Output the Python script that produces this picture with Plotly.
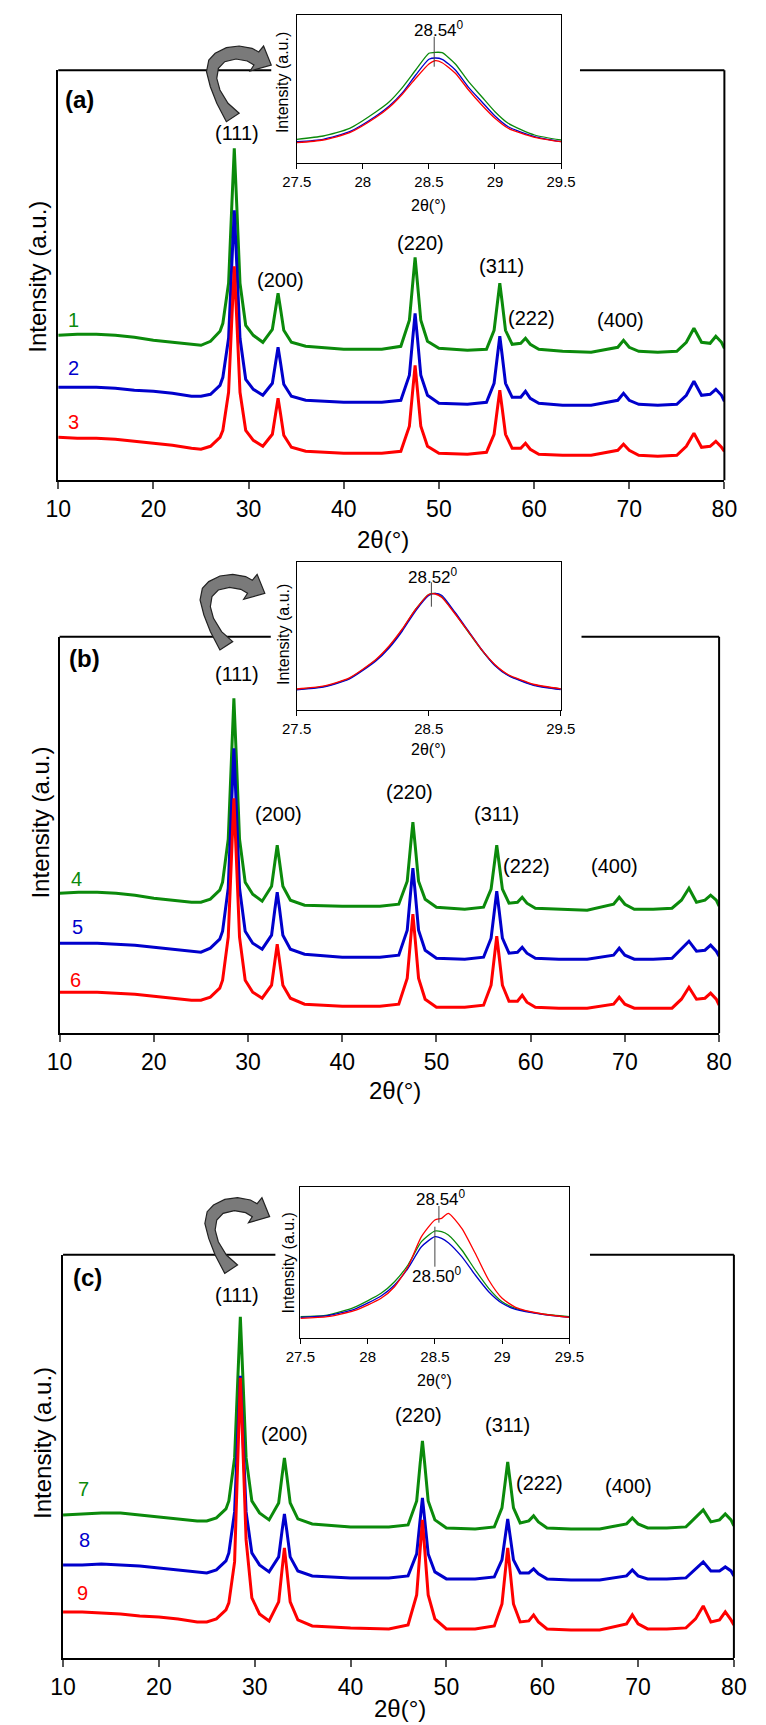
import plotly.graph_objects as go

W, H = 766, 1725
FONT = "Liberation Sans, Arial, sans-serif"
GREEN, BLUE, RED = "#0b8a0b", "#0000cc", "#ff0000"

# ---------------- main XRD patterns (2theta, intensity a.u.) ----------------
two_theta = [10, 12, 14, 16, 18, 20, 22, 24, 25, 26,
             27, 27.3, 27.9, 28.25, 28.5, 28.75, 29.1, 29.7, 30.5, 31.5,
             32.5, 32.85, 33.1, 33.35, 33.7, 34.5, 36, 40, 44, 46,
             46.9, 47.25, 47.5, 47.75, 48.1, 48.8, 50, 53, 55, 55.8,
             56.15, 56.4, 56.65, 57.0, 57.7, 58.6, 59.1, 59.6, 60.5, 63,
             66, 68.8, 69.4, 70.0, 71, 73, 75, 76.0, 76.8, 77.6,
             78.5, 79.1, 79.7, 80]

a_green = [145, 146, 146, 145, 143, 140, 138, 136, 135, 139,
           149, 157, 197, 277, 332, 277, 197, 155, 145, 138,
           151, 172, 187, 172, 150, 138, 134, 131, 131, 134,
           160, 197, 223, 197, 160, 139, 132, 130, 131, 150,
           178, 197, 178, 150, 136, 137, 142, 136, 131, 129,
           128, 133, 140, 133, 129, 128, 129, 138, 152, 138,
           137, 144, 138, 132]
a_blue = [93, 93, 93, 92, 90, 89, 87, 84, 84, 86,
          95, 103, 142, 218, 270, 218, 142, 101, 91, 85,
          97, 118, 133, 118, 96, 84, 80, 78, 78, 80,
          105, 142, 167, 142, 105, 85, 77, 76, 78, 97,
          125, 144, 125, 97, 83, 83, 89, 82, 77, 75,
          75, 80, 87, 80, 76, 75, 76, 85, 99, 85,
          86, 91, 85, 79]
a_red = [43, 42, 42, 41, 39, 37, 35, 32, 31, 34,
         43, 50, 88, 163, 214, 163, 88, 50, 40, 34,
         46, 67, 82, 67, 45, 33, 29, 27, 27, 29,
         54, 90, 115, 90, 54, 34, 27, 26, 28, 46,
         72, 90, 72, 46, 32, 32, 37, 31, 26, 25,
         25, 30, 36, 30, 25, 24, 25, 34, 47, 33,
         34, 39, 33, 29]

b_green = [140, 141, 141, 140, 138, 135, 133, 131, 131, 134,
           143, 151, 194, 278, 335, 278, 194, 151, 139, 132,
           147, 171, 188, 171, 147, 133, 128, 127, 127, 129,
           152, 187, 211, 187, 152, 134, 126, 124, 126, 144,
           170, 188, 170, 144, 130, 131, 136, 130, 125, 124,
           123, 129, 136, 129, 124, 124, 125, 133, 145, 131,
           133, 138, 133, 127]
b_blue = [90, 90, 90, 89, 88, 86, 84, 82, 81, 85,
          94, 102, 145, 228, 285, 228, 145, 102, 90, 84,
          98, 124, 141, 124, 98, 84, 79, 76, 76, 78,
          103, 140, 165, 140, 103, 83, 75, 74, 76, 95,
          123, 142, 123, 95, 80, 81, 86, 80, 75, 74,
          74, 78, 85, 78, 74, 74, 75, 84, 92, 82,
          83, 88, 82, 77]
b_red = [41, 41, 41, 40, 39, 37, 35, 33, 33, 36,
         45, 53, 96, 178, 235, 178, 96, 53, 41, 35,
         48, 72, 89, 72, 48, 35, 29, 27, 27, 29,
         55, 93, 119, 93, 55, 34, 26, 26, 28, 48,
         77, 97, 77, 48, 32, 32, 38, 31, 26, 25,
         25, 29, 36, 29, 25, 25, 25, 34, 46, 34,
         35, 40, 34, 28]

c_green = [143, 144, 145, 145, 143, 141, 139, 137, 137, 140,
           149, 157, 200, 284, 341, 284, 200, 157, 145, 138,
           155, 182, 200, 182, 155, 139, 134, 131, 131, 133,
           157, 193, 217, 193, 157, 138, 130, 129, 131, 150,
           177, 196, 177, 150, 135, 137, 142, 136, 130, 129,
           129, 134, 140, 134, 130, 130, 131, 141, 148, 136,
           138, 144, 138, 132]
c_blue = [93, 93, 94, 93, 92, 90, 88, 86, 85, 88,
          97, 105, 146, 227, 282, 227, 146, 105, 93, 86,
          101, 127, 144, 127, 101, 87, 82, 80, 80, 82,
          104, 137, 160, 137, 104, 86, 79, 79, 81, 98,
          122, 139, 122, 98, 85, 85, 89, 84, 79, 78,
          78, 82, 88, 82, 79, 79, 80, 89, 96, 87,
          87, 91, 87, 82]
c_red = [46, 46, 45, 44, 42, 41, 39, 36, 36, 39,
         48, 55, 96, 200, 280, 215, 118, 60, 44, 37,
         56, 88, 110, 88, 56, 38, 32, 30, 29, 33,
         63, 107, 138, 107, 63, 39, 29, 29, 32, 54,
         87, 110, 87, 54, 36, 37, 43, 36, 29, 28,
         28, 34, 43, 34, 29, 29, 30, 39, 52, 36,
         38, 46, 38, 33]

# ---------------- insets: (111) peak zoom ----------------
inset_theta = [27.5, 27.7, 27.9, 28.1, 28.2, 28.3, 28.4, 28.5, 28.55, 28.6,
               28.7, 28.8, 28.9, 29.0, 29.1, 29.3, 29.5]
ia_green = [24, 27.3, 35, 51.6, 61.6, 76, 93.3, 110, 111, 110.6, 99.3, 81.6, 66.6, 51.6, 40, 28.3, 23.3]
ia_blue = [21.6, 24, 31.6, 47.3, 57.3, 70.6, 88.3, 104, 105.3, 104, 93.3, 76, 61.6, 47.3, 36.6, 26.6, 21.6]
ia_red = [20.6, 23.3, 30.6, 46, 56, 69.3, 85, 99.3, 102.6, 100.6, 90, 73.3, 58.3, 45, 35, 26, 21.6]
ib_green = [20.7, 23.3, 31.7, 50, 63.3, 80.5, 100.5, 115.5, 116.5, 113, 96.5, 78, 60, 45, 35, 25, 21]
ib_blue = [20.2, 22.8, 31, 49, 62, 79, 99, 114.5, 116.7, 114.5, 97.5, 79, 60.5, 44.5, 34.5, 24.5, 20.5]
ib_red = [21, 23.8, 32.2, 50.5, 64, 81, 100.5, 115.5, 116, 112.5, 96, 78.3, 60.3, 45.5, 35.5, 25.5, 21.2]
ic_green = [21.5, 23, 30.9, 44.9, 56.5, 73.2, 96.5, 107.2, 106.5, 103.2, 88.2, 68.2, 49.9, 36.5, 29.9, 24.2, 21.5]
ic_blue = [20.9, 22.5, 28.9, 42.2, 53.2, 69.9, 91.5, 101.5, 99.9, 95.5, 81.5, 63.2, 46.5, 34.9, 28.9, 23.9, 20.9]
ic_red = [19.9, 21.5, 27.5, 39.9, 51.5, 71.5, 101.5, 118.2, 119.9, 124.9, 109.9, 84.9, 58.2, 39.9, 30.9, 24.2, 20.9]

main_ticks = [10, 20, 30, 40, 50, 60, 70, 80]
inset_ticks_full = [27.5, 28, 28.5, 29, 29.5]
inset_ticks_b = [27.5, 28.5, 29.5]
peak_labels = ["(111)", "(200)", "(220)", "(311)", "(222)", "(400)"]


def P(x, y):
    return x / W, 1 - y / H


fig = go.Figure()

panels = [
    ("", "2", [a_green, a_blue, a_red], [ia_green, ia_blue, ia_red], ["1", "2", "3"]),
    ("3", "4", [b_green, b_blue, b_red], [ib_green, ib_blue, ib_red], ["4", "5", "6"]),
    ("5", "6", [c_green, c_blue, c_red], [ic_green, ic_blue, ic_red], ["7", "8", "9"]),
]
colors = [GREEN, BLUE, RED]

for mid, iid, series, iseries, names in panels:
    for ys, col, nm in zip(series, colors, names):
        fig.add_trace(go.Scatter(x=two_theta, y=ys, mode="lines", name=nm,
                                 line=dict(color=col, width=3),
                                 xaxis="x" + mid, yaxis="y" + mid, showlegend=False))
    for ys, col, nm in zip(iseries, colors, names):
        fig.add_trace(go.Scatter(x=inset_theta, y=ys, mode="lines", name=nm,
                                 line=dict(color=col, width=1.3, shape="spline", smoothing=0.6),
                                 xaxis="x" + iid, yaxis="y" + iid, showlegend=False))

main_geo = {  # left, right, top, bottom (page pixels)
    "": (45, 738.3, 70.3, 480.3),
    "3": (46.4, 732.8, 636.8, 1033.2),
    "5": (50, 748.2, 1254.7, 1657.9),
}
inset_geo = {
    "2": (293.3, 568.3, 14.7, 163.3),
    "4": (293.1, 568.1, 562.1, 710),
    "6": (297, 577, 1187, 1338.2),
}

layout = dict(width=W, height=H, margin=dict(l=0, r=0, t=0, b=0),
              paper_bgcolor="white", plot_bgcolor="white",
              font=dict(family=FONT, color="black"), showlegend=False)

for mid, (l, r, t, b) in main_geo.items():
    layout["xaxis" + mid] = dict(domain=[l / W, r / W], anchor="y" + mid, range=[10, 80],
                                 tickvals=main_ticks, ticks="outside", ticklen=7, tickwidth=2,
                                 tickcolor="#555555", showline=True, linewidth=2, linecolor="black",
                                 showgrid=False, zeroline=False,
                                 tickfont=dict(size=23, family=FONT, color="black"))
    layout["yaxis" + mid] = dict(domain=[1 - b / H, 1 - t / H], anchor="x" + mid,
                                 range=[0, b - t], showline=True, linewidth=2, linecolor="black",
                                 showticklabels=False, ticks="", showgrid=False, zeroline=False)

for iid, (l, r, t, b) in inset_geo.items():
    tv = inset_ticks_b if iid == "4" else inset_ticks_full
    layout["xaxis" + iid] = dict(domain=[l / W, r / W], anchor="y" + iid, range=[27.5, 29.5],
                                 tickvals=tv, ticktext=[("%g" % v) for v in tv],
                                 ticks="outside", ticklen=5, tickwidth=1, tickcolor="black",
                                 showline=True, mirror=True, linewidth=1, linecolor="black",
                                 showgrid=False, zeroline=False,
                                 tickfont=dict(size=15, family=FONT, color="black"))
    layout["yaxis" + iid] = dict(domain=[1 - b / H, 1 - t / H], anchor="x" + iid,
                                 range=[0, b - t], showline=True, mirror=True, linewidth=1,
                                 linecolor="black", showticklabels=False, ticks="",
                                 showgrid=False, zeroline=False)

fig.update_layout(**layout)

ann = []


def txt(s, x, y, size, color="black", angle=0):
    px, py = P(x, y)
    ann.append(dict(text=s, x=px, y=py, xref="paper", yref="paper", showarrow=False,
                    xanchor="center", yanchor="middle", textangle=angle,
                    font=dict(size=size, color=color, family=FONT)))


for (x, y) in [(383.5, 539.6), (395, 1090), (400.6, 1708)]:
    txt("2θ(°)", x, y, 24)
for (x, y) in [(24, 276.7), (26.9, 822.7), (28.8, 1443.3)]:
    txt("Intensity (a.u.)", x, y, 24, angle=-90)
for (x, y) in [(430, 205), (430, 749.6), (436.2, 1380)]:
    txt("2θ(°)", x, y, 16)
for (x, y) in [(278.5, 82.5), (280, 635), (284.3, 1263.3)]:
    txt("Intensity (a.u.)", x, y, 16, angle=-90)
for s, (x, y) in zip(["(a)", "(b)", "(c)"], [(66.7, 99), (72, 658), (75.5, 1277.3)]):
    txt("<b>" + s + "</b>", x, y, 24)
peak_pos = [
    [(230.6, 132.7), (276.5, 280), (422, 243.3), (506.6, 265.7), (537.4, 318.3), (630, 320)],
    [(231, 673.6), (274.5, 813.6), (410.4, 792), (500.7, 813.6), (532.5, 865.7), (624.3, 865.7)],
    [(230.6, 1294.7), (281, 1433.7), (420, 1414.6), (513, 1425), (546, 1483.4), (639, 1485.9)],
]
for pos in peak_pos:
    for s, (x, y) in zip(peak_labels, pos):
        txt(s, x, y, 20)
sample_pos = [[(61, 320), (61, 368), (60.5, 421.7)],
              [(63.5, 879), (64.7, 927), (62.7, 980)],
              [(70.8, 1489.4), (72.3, 1539.7), (69.9, 1593)]]
for (mid, iid, series, iseries, names), pos in zip(panels, sample_pos):
    for nm, col, (x, y) in zip(names, colors, pos):
        txt(nm, x, y, 20, color=col)
txt("28.54<sup>0</sup>", 441, 28.8, 17)
txt("28.52<sup>0</sup>", 434.8, 575.8, 17)
txt("28.54<sup>0</sup>", 443, 1198.3, 17)
txt("28.50<sup>0</sup>", 438.7, 1275, 17)

fig.update_layout(annotations=ann)

shapes = []


def seg(x0, y0, x1, y1, w=2, col="black"):
    a0, b0 = P(x0, y0)
    a1, b1 = P(x1, y1)
    shapes.append(dict(type="line", xref="paper", yref="paper", x0=a0, y0=b0, x1=a1, y1=b1,
                       line=dict(color=col, width=w)))


seg(45, 70.3, 266.7, 70.3); seg(588, 70.3, 738.3, 70.3); seg(738.3, 70.3, 738.3, 480.3)
seg(46.4, 636.8, 266.2, 636.8); seg(589.6, 636.8, 732.8, 636.8); seg(732.8, 636.8, 732.8, 1033.2)
seg(50, 1254.7, 271, 1254.7); seg(598.4, 1254.7, 748.2, 1254.7); seg(748.2, 1254.7, 748.2, 1657.9)

for xr, yr, xv, y0, y1 in [("x2", "y2", 28.54, 96.6, 126.6),
                           ("x4", "y4", 28.52, 103.3, 127.7),
                           ("x6", "y6", 28.53, 115.5, 132.2),
                           ("x6", "y6", 28.50, 71.5, 111.5)]:
    shapes.append(dict(type="line", xref=xr, yref=yr, x0=xv, x1=xv, y0=y0, y1=y1,
                       line=dict(color="#444444", width=1)))

arrow_rel = [(-46.7, 56.7), (-56.7, 38.3), (-63.4, 21.7), (-67.4, 6.7), (-65, -5), (-58.4, -11.7),
             (-46.7, -17.3), (-33.4, -19), (-20, -16.7), (-13, -13), (-8, -19), (0, 0), (-22, 6),
             (-18, 0), (-25, -4), (-36.7, -6), (-48.4, -3.3), (-55, 3.3), (-56.7, 13.3),
             (-53.4, 25), (-45, 38.3), (-33.4, 48.3)]
for tx, ty in [(266.7, 65), (260, 593.3), (265, 1216.7)]:
    pts = [P(tx + dx, ty + dy) for dx, dy in arrow_rel]
    path = "M " + " L ".join("%.5f,%.5f" % p for p in pts) + " Z"
    shapes.append(dict(type="path", xref="paper", yref="paper", path=path,
                       fillcolor="#7a7a7a", line=dict(color="#222222", width=1.2)))

fig.update_layout(shapes=shapes)
fig.write_html("out.html")
